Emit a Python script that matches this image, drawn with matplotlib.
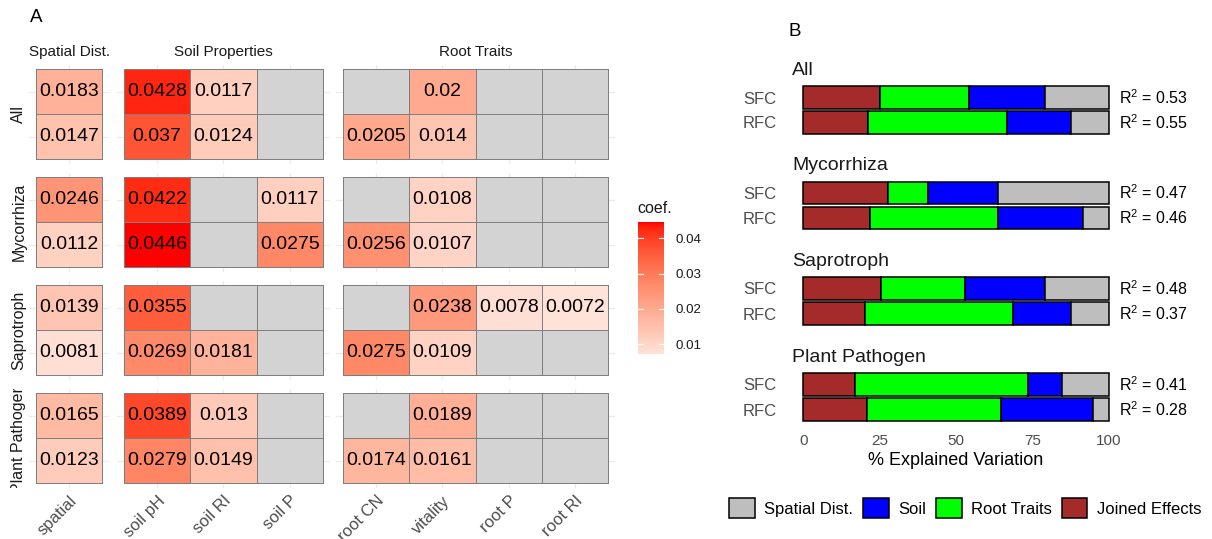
import numpy as np
import matplotlib
matplotlib.use("Agg")
import matplotlib.pyplot as plt
from matplotlib.colors import ListedColormap, Normalize
from matplotlib.patches import Patch

plt.rcParams['font.family'] = ['Liberation Sans', 'DejaVu Sans']
plt.rcParams['mathtext.fontset'] = 'custom'
plt.rcParams['mathtext.rm'] = 'Liberation Sans'
plt.rcParams['mathtext.it'] = 'Liberation Sans:italic'
plt.rcParams['mathtext.default'] = 'regular'

# ---------------- data: panel A ----------------
groups = ["All", "Mycorrhiza", "Saprotroph", "Plant Pathogen"]
facets = ["Spatial Dist.", "Soil Properties", "Root Traits"]
facet_vars = [["spatial"], ["soil pH", "soil RI", "soil P"],
              ["root CN", "vitality", "root P", "root RI"]]
NA = np.nan
# each group: [top row (SFC), bottom row (RFC)] over spatial, soil pH, soil RI, soil P, root CN, vitality, root P, root RI
coef_all = [[0.0183, 0.0428, 0.0117, NA, NA, 0.02, NA, NA],
            [0.0147, 0.037, 0.0124, NA, 0.0205, 0.014, NA, NA]]
coef_myco = [[0.0246, 0.0422, NA, 0.0117, NA, 0.0108, NA, NA],
             [0.0112, 0.0446, NA, 0.0275, 0.0256, 0.0107, NA, NA]]
coef_sapro = [[0.0139, 0.0355, NA, NA, NA, 0.0238, 0.0078, 0.0072],
              [0.0081, 0.0269, 0.0181, NA, 0.0275, 0.0109, NA, NA]]
coef_path = [[0.0165, 0.0389, 0.013, NA, NA, 0.0189, NA, NA],
             [0.0123, 0.0279, 0.0149, NA, 0.0174, 0.0161, NA, NA]]
coefs = [coef_all, coef_myco, coef_sapro, coef_path]
cbar_ticks = [0.01, 0.02, 0.03, 0.04]

# ---------------- data: panel B ----------------
models = ["SFC", "RFC"]
components = ["Joined Effects", "Root Traits", "Soil", "Spatial Dist."]
comp_colors = {"Joined Effects": "#A52A2A", "Root Traits": "#00FF00",
               "Soil": "#0000FF", "Spatial Dist.": "#BEBEBE"}
# percentages per group, [SFC, RFC]
joined = [[25.0, 21.1], [27.6, 22.0], [25.5, 20.3], [17.0, 20.7]]
roots = [[29.1, 45.6], [13.1, 41.7], [27.3, 48.4], [56.5, 44.1]]
soil = [[25.0, 20.8], [23.1, 27.8], [26.3, 19.1], [11.3, 30.2]]
spatial = [[20.9, 12.5], [36.2, 8.5], [20.9, 12.2], [15.2, 5.0]]
r2 = [[0.53, 0.55], [0.47, 0.46], [0.48, 0.37], [0.41, 0.28]]
xticks_b = [0, 25, 50, 75, 100]

# ---------------- figure ----------------
W, H = 1212, 539
fig = plt.figure(figsize=(W / 100, H / 100), dpi=100)


def px(l, t, r, b):
    return [l / W, 1 - b / H, (r - l) / W, (b - t) / H]


def ftext(x, y, s, **kw):
    return fig.text(x / W, 1 - y / H, s, **kw)


# Lab interpolation like ggplot's scale_fill_gradient
def srgb_to_lab(rgb):
    rgb = np.asarray(rgb, float)
    lin = np.where(rgb <= 0.04045, rgb / 12.92, ((rgb + 0.055) / 1.055) ** 2.4)
    M = np.array([[0.4124, 0.3576, 0.1805], [0.2126, 0.7152, 0.0722], [0.0193, 0.1192, 0.9505]])
    xyz = M @ lin
    wp = np.array([0.95047, 1.0, 1.08883])
    f = xyz / wp
    f = np.where(f > 0.008856, np.cbrt(f), 7.787 * f + 16 / 116)
    return np.array([116 * f[1] - 16, 500 * (f[0] - f[1]), 200 * (f[1] - f[2])])


def lab_to_srgb(lab):
    L, a, b = lab
    fy = (L + 16) / 116
    fx = fy + a / 500
    fz = fy - b / 200
    f = np.array([fx, fy, fz])
    xyz = np.where(f ** 3 > 0.008856, f ** 3, (f - 16 / 116) / 7.787) * np.array([0.95047, 1.0, 1.08883])
    Minv = np.array([[3.2406, -1.5372, -0.4986], [-0.9689, 1.8758, 0.0415], [0.0557, -0.2040, 1.0570]])
    lin = np.clip(Minv @ xyz, 0, 1)
    return np.where(lin <= 0.0031308, 12.92 * lin, 1.055 * lin ** (1 / 2.4) - 0.055)


low = srgb_to_lab(np.array([255, 226, 216]) / 255)
high = srgb_to_lab(np.array([255, 0, 0]) / 255)
cols = [np.clip(lab_to_srgb(low + t * (high - low)), 0, 1) for t in np.linspace(0, 1, 256)]
cmap = ListedColormap(cols)
cmap.set_bad("#D3D3D3")
allv = np.array(coefs, float)
vmin, vmax = np.nanmin(allv), np.nanmax(allv)
norm = Normalize(vmin, vmax)

# panel A geometry (pixels)
unit_x = 66.3
col_left = [36.0, 124.0, 343.0]
row_tops = [69.0, 177.0, 285.0, 393.0]
unit_y = 45.0
col_start = [0, 1, 4]

ftext(30, 18, "A", fontsize=13.5, va="center", ha="left")
ftext(788, 31, "B", fontsize=13.5, va="center", ha="left")

for gi, g in enumerate(groups):
    data = np.array(coefs[gi], float)
    for fi, fac in enumerate(facets):
        vars_ = facet_vars[fi]
        n = len(vars_)
        l = col_left[fi] - 0.1 * unit_x
        r = col_left[fi] + (n + 0.1) * unit_x
        t = row_tops[gi] - 0.1 * unit_y
        b = row_tops[gi] + 2.1 * unit_y
        ax = fig.add_axes(px(l, t, r, b))
        sub = data[:, col_start[fi]:col_start[fi] + n]
        arr = np.ma.masked_invalid(sub[::-1])  # bottom row first
        ax.pcolormesh(np.arange(0.5, n + 1), [0.5, 1.5, 2.5], arr, cmap=cmap, norm=norm,
                      edgecolors="#7F7F7F", linewidth=0.7, zorder=2)
        for ri in range(2):
            for ci in range(n):
                v = sub[ri, ci]
                if not np.isnan(v):
                    ax.text(ci + 1, 2 - ri, "{:g}".format(v), ha="center", va="center",
                            fontsize=14, color="black", zorder=3)
        ax.set_xlim(0.4, n + 0.6)
        ax.set_ylim(0.4, 2.6)
        ax.set_xticks(np.arange(1, n + 1))
        ax.set_yticks([1, 2])
        ax.grid(True, color="#EBEBEB", linewidth=0.9, zorder=0)
        ax.set_axisbelow(True)
        for s in ax.spines.values():
            s.set_visible(False)
        ax.tick_params(length=0)
        ax.set_yticklabels([])
        if gi == len(groups) - 1:
            ax.set_xticklabels(vars_, rotation=45, ha="right", rotation_mode="anchor",
                               fontsize=12, color="#4D4D4D")
            ax.tick_params(axis="x", pad=4)
        else:
            ax.set_xticklabels([])
        if gi == 0:
            ftext((l + r) / 2, 52, fac, fontsize=11, ha="center", va="center", color="#1A1A1A")
    # left strip with clipping
    sax = fig.add_axes(px(5, row_tops[gi] - 0.1 * unit_y, 28, row_tops[gi] + 2.1 * unit_y))
    sax.axis("off")
    sax.text(0.6, 0.5, g, transform=sax.transAxes, rotation=90, ha="center", va="center",
             fontsize=11.5, color="#1A1A1A", clip_on=True)

# colorbar
cax = fig.add_axes(px(638, 222, 664, 354))
grad = np.linspace(vmin, vmax, 300).reshape(-1, 1)
cax.imshow(grad, aspect="auto", cmap=cmap, norm=norm, origin="lower",
           extent=[0, 1, vmin, vmax])
cax.set_xlim(0, 1)
cax.set_ylim(vmin, vmax)
for s in cax.spines.values():
    s.set_visible(False)
cax.set_xticks([])
for tv in cbar_ticks:
    cax.plot([0, 0.2], [tv, tv], color="white", lw=0.8)
    cax.plot([0.8, 1], [tv, tv], color="white", lw=0.8)
cax.yaxis.tick_right()
cax.set_yticks(cbar_ticks)
cax.set_yticklabels(["{:g}".format(t) for t in cbar_ticks], fontsize=9.6, color="#1A1A1A")
cax.tick_params(length=0, pad=8)
ftext(637, 208, "coef.", fontsize=11.5, ha="left", va="center", color="#1A1A1A")

# panel B
panel_tops = [82.5, 178.0, 273.5, 369.5]
for gi, g in enumerate(groups):
    ax = fig.add_axes(px(788, panel_tops[gi], 1124, panel_tops[gi] + 55))
    ypos = [2, 1]  # SFC top, RFC bottom
    left = np.zeros(2)
    series = {"Joined Effects": joined[gi], "Root Traits": roots[gi],
              "Soil": soil[gi], "Spatial Dist.": spatial[gi]}
    for comp in components:
        vals = np.array(series[comp])
        ax.barh(ypos, vals, left=left, height=0.9, color=comp_colors[comp],
                edgecolor="black", linewidth=1.1, clip_on=False)
        left = left + vals
    for mi in range(2):
        ax.text(103.3, ypos[mi], "R$^{2}$ = " + "{:.2f}".format(r2[gi][mi]), ha="left", va="center",
                fontsize=11.5, color="black", clip_on=False)
    ax.set_xlim(-5, 105)
    ax.set_ylim(0.4, 2.6)
    ax.set_yticks(ypos)
    ax.set_yticklabels(models, fontsize=12, color="#4D4D4D")
    ax.tick_params(length=0, pad=8)
    for s in ax.spines.values():
        s.set_visible(False)
    ax.set_xticks(xticks_b)
    if gi == len(groups) - 1:
        ax.set_xticklabels([str(v) for v in xticks_b], fontsize=11, color="#4D4D4D")
        ax.tick_params(axis="x", pad=7)
        ax.set_xlabel("% Explained Variation", fontsize=13, labelpad=3)
    else:
        ax.set_xticklabels([])
    ax.text(0.012, 1.07, g, transform=ax.transAxes, fontsize=14, ha="left", va="bottom",
            color="#1A1A1A")

handles = [Patch(facecolor=comp_colors[c], edgecolor="black", linewidth=1.1)
           for c in ["Spatial Dist.", "Soil", "Root Traits", "Joined Effects"]]
fig.legend(handles, ["Spatial Dist.", "Soil", "Root Traits", "Joined Effects"], ncol=4,
           loc="center", bbox_to_anchor=(965 / W, 1 - 508 / H), frameon=False,
           fontsize=12, handlelength=1.55, handleheight=1.45, handletextpad=0.55,
           columnspacing=0.6)

fig.savefig("out.png", dpi=100)
